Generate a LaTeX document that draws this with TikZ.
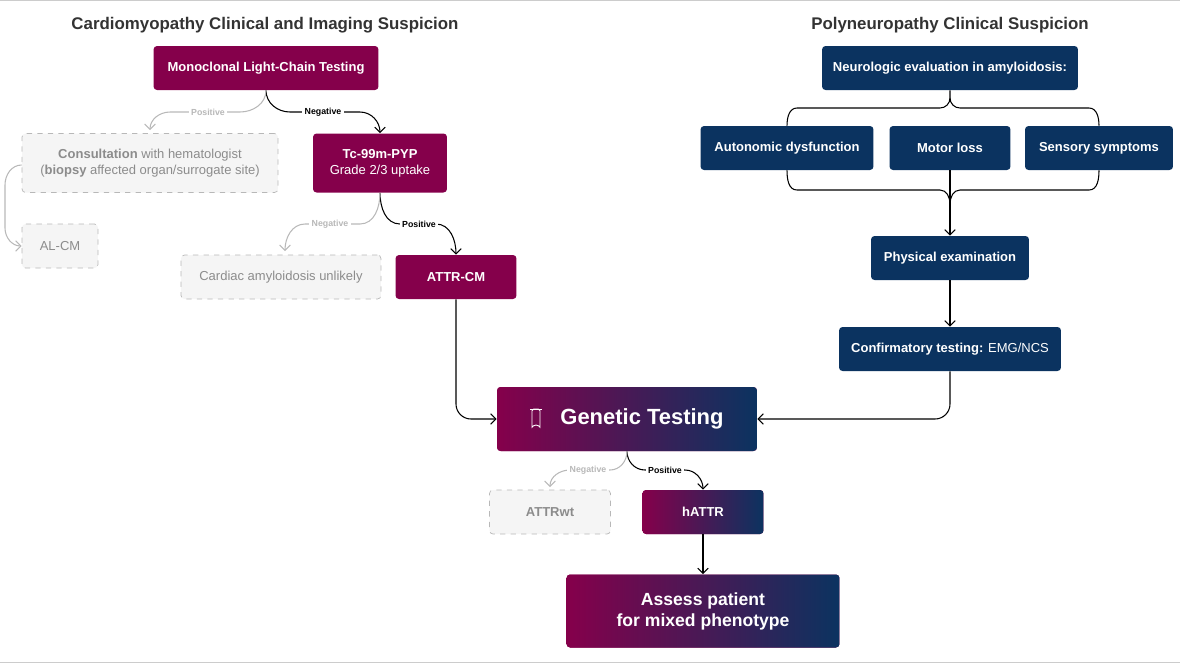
\documentclass[tikz,border=0pt]{standalone}
\usepackage{fontspec}
\setmainfont{Liberation Sans}
\usetikzlibrary{arrows.meta}
\definecolor{mag}{HTML}{85004B}
\definecolor{navy}{HTML}{0B3360}
\definecolor{ghost}{HTML}{B8B8B8}
\tikzset{
  box/.style={rectangle, rounded corners=2pt, fill=mag, text=white, font=\fontsize{7.4}{9}\selectfont\bfseries, align=center, inner sep=0pt},
  nbox/.style={box, fill=navy},
  gbox/.style={box, left color=mag, right color=navy},
  dbox/.style={rectangle, rounded corners=2pt, draw=ghost, dashed, fill=gray!8, text=gray!90, font=\fontsize{7.4}{9}\selectfont, align=center, inner sep=0pt},
  lab/.style={fill=white, inner sep=1.5pt, font=\fontsize{5}{6}\selectfont\bfseries},
  yes/.style={draw=black, line width=0.6pt, -{Straight Barb[length=3pt,width=6pt]}},
  no/.style={draw=ghost, line width=0.6pt, -{Straight Barb[length=3pt,width=6pt]}},
  ttl/.style={font=\fontsize{9.6}{11}\selectfont\bfseries, text=black!80}
}
\begin{document}
\begin{tikzpicture}[x=0.02cm, y=-0.02cm]
\useasboundingbox (0,0) rectangle (1180,664);
\draw[gray!40] (0,0.5) -- (1180,0.5);
\draw[gray!40] (0,662) -- (1180,662);
\node[ttl] (tleft) at (265,25) {Cardiomyopathy Clinical and Imaging Suspicion};
\node[ttl] (tright) at (950,25) {Polyneuropathy Clinical Suspicion};
% cardiomyopathy branch
\node[box, minimum width=4.5cm, minimum height=0.88cm] (mono) at (266,68) {Monoclonal Light-Chain Testing};
\node[box, minimum width=2.68cm, minimum height=1.18cm, font=\fontsize{7.4}{9}\selectfont] (tc) at (380,163) {\textbf{Tc-99m-PYP}\\Grade 2/3 uptake};
\node[dbox, minimum width=5.12cm, minimum height=1.18cm] (consult) at (150,163) {\textbf{Consultation} with hematologist\\(\textbf{biopsy} affected organ/surrogate site)};
\node[dbox, minimum width=1.52cm, minimum height=0.88cm] (alcm) at (60,246) {AL-CM};
\node[dbox, minimum width=4cm, minimum height=0.88cm] (unlikely) at (281,277) {Cardiac amyloidosis unlikely};
\node[box, minimum width=2.42cm, minimum height=0.88cm] (attr) at (456,277) {ATTR-CM};
% neuropathy branch
\node[nbox, minimum width=5.12cm, minimum height=0.88cm] (neuro) at (950,68) {Neurologic evaluation in amyloidosis:};
\node[nbox, minimum width=3.46cm, minimum height=0.88cm] (auto) at (787,148) {Autonomic dysfunction};
\node[nbox, minimum width=2.42cm, minimum height=0.88cm] (motor) at (950,148) {Motor loss};
\node[nbox, minimum width=2.96cm, minimum height=0.88cm] (sensory) at (1099,148) {Sensory symptoms};
\node[nbox, minimum width=3.16cm, minimum height=0.88cm] (phys) at (950,258) {Physical examination};
\node[nbox, minimum width=4.44cm, minimum height=0.88cm] (confirm) at (950,349) {Confirmatory testing: \mdseries EMG/NCS};
% genetics
\node[gbox, minimum width=5.2cm, minimum height=1.28cm, font=\fontsize{12.5}{14}\selectfont\bfseries] (gen) at (627,419) {\hspace{0.6cm}Genetic Testing};
\draw[white, line width=0.5pt, rounded corners=1pt] (532,409) -- (532,429) arc[start angle=180, end angle=360, radius=4] -- (540,409) -- cycle;
\draw[white, line width=0.5pt] (530,409) -- (542,409);
\node[dbox, minimum width=2.42cm, minimum height=0.88cm] (attrwt) at (550,512) {\bfseries ATTRwt};
\node[gbox, minimum width=2.42cm, minimum height=0.88cm] (hattr) at (703,512) {hATTR};
\node[gbox, minimum width=5.46cm, minimum height=1.46cm, font=\fontsize{10}{12}\selectfont\bfseries] (assess) at (703,611) {Assess patient\\for mixed phenotype};
% connectors
\draw[yes] (mono.south) to[out=-90,in=180] (290,112) -- (360,112) to[out=0,in=90] (tc.north);
\node[lab] (neg1) at (323,112) {Negative};
\draw[no] (mono.south) to[out=-90,in=0] (240,112) -- (170,112) to[out=180,in=90] (150,130);
\node[lab, text=ghost] (pos1) at (208,112) {Positive};
\draw[no] (consult.west) ++(0,2) coordinate (c1) (c1) to[out=180,in=90] (5,185) -- (5,228) to[out=-90,in=180] (alcm.west);
\draw[yes] (tc.south) to[out=-90,in=180] (400,224) -- (436,224) to[out=0,in=90] (attr.north);
\node[lab] (pos2) at (419,224) {Positive};
\draw[no] (tc.south) to[out=-90,in=0] (360,224) -- (305,224) to[out=180,in=90] (285,251);
\node[lab, text=ghost] (neg2) at (330,224) {Negative};
\draw[yes] (attr.south) -- (456,404) to[out=-90,in=180] (471,419) -- (gen.west);
\draw[yes] (confirm.south) -- (950,404) to[out=-90,in=0] (935,419) -- (gen.east);
\draw[yes] (gen.south) to[out=-90,in=180] (645,470) -- (685,470) to[out=0,in=90] (hattr.north);
\node[lab] (pos3) at (665,470) {Positive};
\draw[no] (gen.south) to[out=-90,in=0] (610,470) -- (570,470) to[out=180,in=90] (550,487);
\node[lab, text=ghost] (neg3) at (588,470) {Negative};
\draw[yes] (hattr.south) -- (assess.north);
% braces
\draw[line width=0.6pt] (neuro.south) -- (950,98) to[out=-90,in=0] (940,108) -- (797,108) to[out=180,in=90] (auto.north);
\draw[line width=0.6pt] (950,98) to[out=-90,in=180] (960,108) -- (1089,108) to[out=0,in=90] (sensory.north);
\draw[line width=0.6pt] (auto.south) to[out=-90,in=180] (797,190) -- (940,190) to[out=0,in=90] (950,204);
\draw[line width=0.6pt] (sensory.south) to[out=-90,in=0] (1089,190) -- (960,190) to[out=180,in=90] (950,204);
\draw[yes] (motor.south) -- (phys.north);
\draw[yes] (phys.south) -- (confirm.north);
\end{tikzpicture}
\end{document}
